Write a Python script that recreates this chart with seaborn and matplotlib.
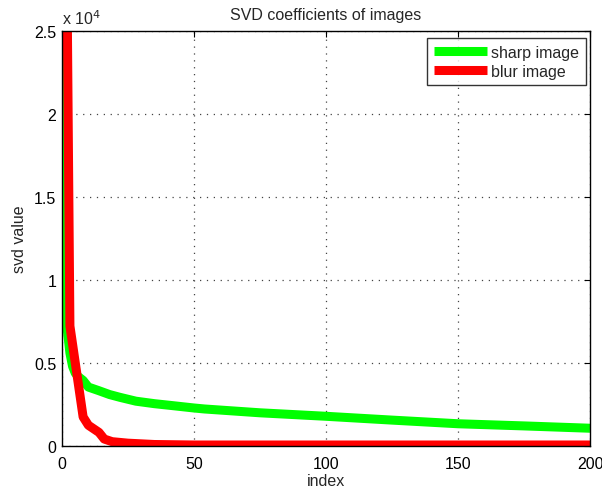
import matplotlib
matplotlib.use("Agg")
import matplotlib.pyplot as plt
import matplotlib.ticker as mticker
import seaborn as sns
import pandas as pd

# Data
sharp_index = [1, 2, 3, 4, 5, 6, 8, 10, 14, 18, 22, 28, 35, 42, 50, 54, 75, 100, 125, 150, 175, 200]
sharp_value = [100000, 7000, 5600, 4800, 4400, 4200, 3950, 3550, 3330, 3100, 2930, 2700, 2550, 2430, 2290, 2230, 2000, 1790, 1560, 1340, 1210, 1070]
blur_index = [1, 2, 3, 8, 10, 14, 16, 19, 25, 35, 50, 200]
blur_value = [100000, 26000, 7230, 1750, 1250, 820, 420, 260, 170, 90, 60, 60]
series_names = ["sharp image", "blur image"]
series_colors = ["#00ff00", "#ff0000"]
x_ticks = [0, 50, 100, 150, 200]
y_ticks = [0, 5000, 10000, 15000, 20000, 25000]

df = pd.concat([
    pd.DataFrame({"index": sharp_index, "value": sharp_value, "series": series_names[0]}),
    pd.DataFrame({"index": blur_index, "value": blur_value, "series": series_names[1]}),
])

sns.set_style("white")
plt.rcParams["font.family"] = ["Liberation Sans", "DejaVu Sans"]

fig = plt.figure(figsize=(6.02, 4.89), dpi=100)
ax = fig.add_axes([62/602, 1 - 447/489, 528/602, 415/489])

sns.lineplot(data=df, x="index", y="value", hue="series", palette=series_colors,
             hue_order=series_names, linewidth=6.5, ax=ax, estimator=None, sort=False,
             solid_capstyle="butt")

ax.set_xlim(0, 200)
ax.set_ylim(0, 25000)
ax.set_xticks(x_ticks)
ax.set_yticks(y_ticks)
ax.yaxis.set_major_formatter(mticker.FuncFormatter(lambda v, p: f"{v/1e4:g}"))
ax.grid(True, linestyle=(0, (1, 4.5)), color="#444444", linewidth=0.9)
for s in ax.spines.values():
    s.set_visible(True)
    s.set_color("black")
    s.set_linewidth(1.0)
ax.tick_params(direction="in", top=True, right=True, length=4, labelsize=11.5,
               colors="black", width=0.8)
ax.tick_params(axis="x", pad=7)
ax.tick_params(axis="y", pad=4)
ax.set_xlabel("index", fontsize=11.5, labelpad=2)
ax.set_ylabel("svd value", fontsize=11.5, labelpad=5)
ax.set_title("SVD coefficients of images", fontsize=11.5, pad=9)
ax.text(0.0, 1.01, r"x 10$^{4}$", transform=ax.transAxes, fontsize=11.5, ha="left", va="bottom")

leg = ax.legend(loc="upper right", bbox_to_anchor=(0.992, 0.982), borderaxespad=0,
                fontsize=11.5, frameon=True, fancybox=False, edgecolor="black",
                handlelength=3.3, handletextpad=0.3, labelspacing=0.25, borderpad=0.4)
leg.get_frame().set_linewidth(1.0)
for line in leg.get_lines():
    line.set_linewidth(6.5)
    line.set_solid_capstyle("butt")

fig.savefig("out.png", dpi=100, facecolor="white")
